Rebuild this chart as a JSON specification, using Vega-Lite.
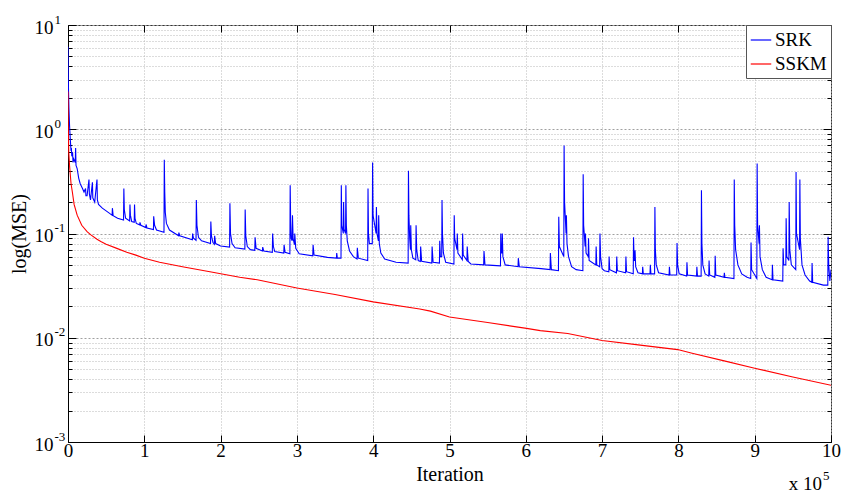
{
  "$schema": "https://vega.github.io/schema/vega-lite/v6.json",
  "width": 763,
  "height": 417,
  "autosize": "none",
  "padding": {"left": 68, "top": 25, "right": 11, "bottom": 53},
  "background": "white",
  "config": {
    "font": "Liberation Serif",
    "view": {"stroke": "#333333", "strokeWidth": 1},
    "axis": {
      "labelColor": "black", "titleColor": "black", "tickColor": "black", "domainColor": "black",
      "labelFont": "Liberation Serif", "titleFont": "Liberation Serif", "titleFontWeight": "normal",
      "labelFontSize": 19, "titleFontSize": 20, "labelFlush": false, "labelOverlap": false
    },
    "legend": {
      "orient": "top-right", "offset": 0, "padding": 4, "strokeColor": "#555555", "fillColor": "white",
      "symbolType": "stroke", "symbolSize": 420, "symbolStrokeWidth": 1.2, "labelFont": "Liberation Serif",
      "labelFontSize": 19, "labelColor": "black", "rowPadding": 3, "labelOffset": 3
    }
  },
  "data": {"values": [
    {"s":"SRK","x":0,"y":6.2},{"s":"SRK","x":0.004,"y":2.9},{"s":"SRK","x":0.012,"y":1.6},{"s":"SRK","x":0.02,"y":1.1},{"s":"SRK","x":0.03,"y":0.8},{"s":"SRK","x":0.04,"y":0.62},{"s":"SRK","x":0.044,"y":0.66},{"s":"SRK","x":0.05,"y":0.55},{"s":"SRK","x":0.06,"y":0.6},{"s":"SRK","x":0.066,"y":0.48},{"s":"SRK","x":0.075,"y":0.52},{"s":"SRK","x":0.085,"y":0.5},{"s":"SRK","x":0.095,"y":0.48},{"s":"SRK","x":0.1,"y":0.66},{"s":"SRK","x":0.105,"y":0.45},{"s":"SRK","x":0.12,"y":0.42},{"s":"SRK","x":0.14,"y":0.34},{"s":"SRK","x":0.16,"y":0.3},{"s":"SRK","x":0.19,"y":0.27},{"s":"SRK","x":0.21,"y":0.25},{"s":"SRK","x":0.23,"y":0.27},{"s":"SRK","x":0.235,"y":0.23},{"s":"SRK","x":0.25,"y":0.23},{"s":"SRK","x":0.275,"y":0.33},{"s":"SRK","x":0.28,"y":0.24},{"s":"SRK","x":0.295,"y":0.21},{"s":"SRK","x":0.32,"y":0.31},{"s":"SRK","x":0.325,"y":0.22},{"s":"SRK","x":0.35,"y":0.2},{"s":"SRK","x":0.38,"y":0.33},{"s":"SRK","x":0.385,"y":0.21},{"s":"SRK","x":0.4,"y":0.19},{"s":"SRK","x":0.45,"y":0.175},{"s":"SRK","x":0.5,"y":0.165},{"s":"SRK","x":0.55,"y":0.155},{"s":"SRK","x":0.578,"y":0.15},{"s":"SRK","x":0.582,"y":0.175},{"s":"SRK","x":0.592,"y":0.148},{"s":"SRK","x":0.65,"y":0.14},{"s":"SRK","x":0.728,"y":0.135},{"s":"SRK","x":0.732,"y":0.27},{"s":"SRK","x":0.738,"y":0.17},{"s":"SRK","x":0.755,"y":0.14},{"s":"SRK","x":0.808,"y":0.132},{"s":"SRK","x":0.812,"y":0.19},{"s":"SRK","x":0.818,"y":0.15},{"s":"SRK","x":0.835,"y":0.13},{"s":"SRK","x":0.868,"y":0.128},{"s":"SRK","x":0.872,"y":0.19},{"s":"SRK","x":0.878,"y":0.14},{"s":"SRK","x":0.895,"y":0.125},{"s":"SRK","x":0.94,"y":0.121},{"s":"SRK","x":0.943,"y":0.128},{"s":"SRK","x":0.955,"y":0.12},{"s":"SRK","x":1.02,"y":0.114},{"s":"SRK","x":1.023,"y":0.122},{"s":"SRK","x":1.035,"y":0.113},{"s":"SRK","x":1.12,"y":0.109},{"s":"SRK","x":1.123,"y":0.146},{"s":"SRK","x":1.135,"y":0.12},{"s":"SRK","x":1.16,"y":0.108},{"s":"SRK","x":1.258,"y":0.103},{"s":"SRK","x":1.262,"y":0.51},{"s":"SRK","x":1.268,"y":0.25},{"s":"SRK","x":1.275,"y":0.16},{"s":"SRK","x":1.29,"y":0.125},{"s":"SRK","x":1.33,"y":0.108},{"s":"SRK","x":1.45,"y":0.095},{"s":"SRK","x":1.453,"y":0.102},{"s":"SRK","x":1.465,"y":0.095},{"s":"SRK","x":1.63,"y":0.087},{"s":"SRK","x":1.633,"y":0.1},{"s":"SRK","x":1.645,"y":0.09},{"s":"SRK","x":1.678,"y":0.086},{"s":"SRK","x":1.682,"y":0.21},{"s":"SRK","x":1.69,"y":0.12},{"s":"SRK","x":1.71,"y":0.092},{"s":"SRK","x":1.75,"y":0.085},{"s":"SRK","x":1.868,"y":0.08},{"s":"SRK","x":1.872,"y":0.13},{"s":"SRK","x":1.88,"y":0.095},{"s":"SRK","x":1.9,"y":0.082},{"s":"SRK","x":1.918,"y":0.079},{"s":"SRK","x":1.922,"y":0.095},{"s":"SRK","x":1.935,"y":0.08},{"s":"SRK","x":2.0,"y":0.076},{"s":"SRK","x":2.118,"y":0.074},{"s":"SRK","x":2.122,"y":0.195},{"s":"SRK","x":2.13,"y":0.1},{"s":"SRK","x":2.15,"y":0.08},{"s":"SRK","x":2.19,"y":0.073},{"s":"SRK","x":2.318,"y":0.071},{"s":"SRK","x":2.322,"y":0.17},{"s":"SRK","x":2.33,"y":0.095},{"s":"SRK","x":2.35,"y":0.075},{"s":"SRK","x":2.39,"y":0.07},{"s":"SRK","x":2.448,"y":0.069},{"s":"SRK","x":2.452,"y":0.092},{"s":"SRK","x":2.465,"y":0.072},{"s":"SRK","x":2.548,"y":0.068},{"s":"SRK","x":2.552,"y":0.074},{"s":"SRK","x":2.565,"y":0.068},{"s":"SRK","x":2.678,"y":0.066},{"s":"SRK","x":2.682,"y":0.1},{"s":"SRK","x":2.692,"y":0.075},{"s":"SRK","x":2.71,"y":0.067},{"s":"SRK","x":2.828,"y":0.065},{"s":"SRK","x":2.832,"y":0.078},{"s":"SRK","x":2.845,"y":0.066},{"s":"SRK","x":2.908,"y":0.064},{"s":"SRK","x":2.912,"y":0.29},{"s":"SRK","x":2.918,"y":0.13},{"s":"SRK","x":2.925,"y":0.09},{"s":"SRK","x":2.938,"y":0.085},{"s":"SRK","x":2.942,"y":0.15},{"s":"SRK","x":2.95,"y":0.09},{"s":"SRK","x":2.968,"y":0.078},{"s":"SRK","x":2.972,"y":0.1},{"s":"SRK","x":2.985,"y":0.072},{"s":"SRK","x":3.03,"y":0.064},{"s":"SRK","x":3.208,"y":0.061},{"s":"SRK","x":3.212,"y":0.078},{"s":"SRK","x":3.225,"y":0.062},{"s":"SRK","x":3.4,"y":0.059},{"s":"SRK","x":3.518,"y":0.058},{"s":"SRK","x":3.522,"y":0.065},{"s":"SRK","x":3.53,"y":0.058},{"s":"SRK","x":3.578,"y":0.058},{"s":"SRK","x":3.582,"y":0.29},{"s":"SRK","x":3.588,"y":0.12},{"s":"SRK","x":3.608,"y":0.1},{"s":"SRK","x":3.612,"y":0.2},{"s":"SRK","x":3.618,"y":0.11},{"s":"SRK","x":3.638,"y":0.1},{"s":"SRK","x":3.642,"y":0.29},{"s":"SRK","x":3.648,"y":0.12},{"s":"SRK","x":3.66,"y":0.085},{"s":"SRK","x":3.69,"y":0.068},{"s":"SRK","x":3.74,"y":0.06},{"s":"SRK","x":3.788,"y":0.057},{"s":"SRK","x":3.792,"y":0.073},{"s":"SRK","x":3.805,"y":0.058},{"s":"SRK","x":3.928,"y":0.055},{"s":"SRK","x":3.932,"y":0.27},{"s":"SRK","x":3.938,"y":0.1},{"s":"SRK","x":3.95,"y":0.08},{"s":"SRK","x":3.988,"y":0.08},{"s":"SRK","x":3.992,"y":0.48},{"s":"SRK","x":3.998,"y":0.15},{"s":"SRK","x":4.038,"y":0.1},{"s":"SRK","x":4.042,"y":0.18},{"s":"SRK","x":4.05,"y":0.1},{"s":"SRK","x":4.068,"y":0.085},{"s":"SRK","x":4.072,"y":0.15},{"s":"SRK","x":4.08,"y":0.08},{"s":"SRK","x":4.1,"y":0.065},{"s":"SRK","x":4.15,"y":0.057},{"s":"SRK","x":4.3,"y":0.053},{"s":"SRK","x":4.458,"y":0.052},{"s":"SRK","x":4.462,"y":0.4},{"s":"SRK","x":4.468,"y":0.15},{"s":"SRK","x":4.478,"y":0.09},{"s":"SRK","x":4.488,"y":0.07},{"s":"SRK","x":4.492,"y":0.12},{"s":"SRK","x":4.5,"y":0.07},{"s":"SRK","x":4.52,"y":0.058},{"s":"SRK","x":4.558,"y":0.056},{"s":"SRK","x":4.562,"y":0.12},{"s":"SRK","x":4.57,"y":0.07},{"s":"SRK","x":4.59,"y":0.055},{"s":"SRK","x":4.618,"y":0.054},{"s":"SRK","x":4.622,"y":0.075},{"s":"SRK","x":4.635,"y":0.054},{"s":"SRK","x":4.768,"y":0.052},{"s":"SRK","x":4.772,"y":0.075},{"s":"SRK","x":4.785,"y":0.053},{"s":"SRK","x":4.868,"y":0.052},{"s":"SRK","x":4.872,"y":0.085},{"s":"SRK","x":4.88,"y":0.06},{"s":"SRK","x":4.898,"y":0.06},{"s":"SRK","x":4.902,"y":0.21},{"s":"SRK","x":4.908,"y":0.1},{"s":"SRK","x":4.92,"y":0.065},{"s":"SRK","x":4.95,"y":0.053},{"s":"SRK","x":5.058,"y":0.051},{"s":"SRK","x":5.062,"y":0.15},{"s":"SRK","x":5.068,"y":0.09},{"s":"SRK","x":5.098,"y":0.07},{"s":"SRK","x":5.102,"y":0.1},{"s":"SRK","x":5.11,"y":0.065},{"s":"SRK","x":5.168,"y":0.056},{"s":"SRK","x":5.172,"y":0.1},{"s":"SRK","x":5.18,"y":0.062},{"s":"SRK","x":5.228,"y":0.055},{"s":"SRK","x":5.232,"y":0.075},{"s":"SRK","x":5.245,"y":0.054},{"s":"SRK","x":5.28,"y":0.051},{"s":"SRK","x":5.448,"y":0.05},{"s":"SRK","x":5.452,"y":0.068},{"s":"SRK","x":5.465,"y":0.05},{"s":"SRK","x":5.668,"y":0.049},{"s":"SRK","x":5.672,"y":0.1},{"s":"SRK","x":5.678,"y":0.065},{"s":"SRK","x":5.688,"y":0.065},{"s":"SRK","x":5.692,"y":0.1},{"s":"SRK","x":5.7,"y":0.06},{"s":"SRK","x":5.73,"y":0.05},{"s":"SRK","x":5.898,"y":0.048},{"s":"SRK","x":5.902,"y":0.058},{"s":"SRK","x":5.915,"y":0.048},{"s":"SRK","x":6.2,"y":0.046},{"s":"SRK","x":6.318,"y":0.045},{"s":"SRK","x":6.322,"y":0.065},{"s":"SRK","x":6.335,"y":0.045},{"s":"SRK","x":6.428,"y":0.044},{"s":"SRK","x":6.432,"y":0.145},{"s":"SRK","x":6.44,"y":0.075},{"s":"SRK","x":6.498,"y":0.06},{"s":"SRK","x":6.502,"y":0.7},{"s":"SRK","x":6.508,"y":0.2},{"s":"SRK","x":6.528,"y":0.1},{"s":"SRK","x":6.532,"y":0.15},{"s":"SRK","x":6.54,"y":0.08},{"s":"SRK","x":6.56,"y":0.06},{"s":"SRK","x":6.6,"y":0.048},{"s":"SRK","x":6.66,"y":0.045},{"s":"SRK","x":6.748,"y":0.044},{"s":"SRK","x":6.752,"y":0.37},{"s":"SRK","x":6.758,"y":0.12},{"s":"SRK","x":6.778,"y":0.075},{"s":"SRK","x":6.782,"y":0.1},{"s":"SRK","x":6.79,"y":0.065},{"s":"SRK","x":6.818,"y":0.06},{"s":"SRK","x":6.822,"y":0.09},{"s":"SRK","x":6.83,"y":0.055},{"s":"SRK","x":6.918,"y":0.05},{"s":"SRK","x":6.922,"y":0.075},{"s":"SRK","x":6.93,"y":0.05},{"s":"SRK","x":6.968,"y":0.048},{"s":"SRK","x":6.972,"y":0.1},{"s":"SRK","x":6.98,"y":0.06},{"s":"SRK","x":7.0,"y":0.046},{"s":"SRK","x":7.03,"y":0.044},{"s":"SRK","x":7.088,"y":0.043},{"s":"SRK","x":7.092,"y":0.06},{"s":"SRK","x":7.1,"y":0.045},{"s":"SRK","x":7.188,"y":0.042},{"s":"SRK","x":7.192,"y":0.06},{"s":"SRK","x":7.2,"y":0.044},{"s":"SRK","x":7.308,"y":0.042},{"s":"SRK","x":7.312,"y":0.06},{"s":"SRK","x":7.32,"y":0.043},{"s":"SRK","x":7.408,"y":0.041},{"s":"SRK","x":7.412,"y":0.092},{"s":"SRK","x":7.42,"y":0.055},{"s":"SRK","x":7.428,"y":0.055},{"s":"SRK","x":7.432,"y":0.069},{"s":"SRK","x":7.44,"y":0.048},{"s":"SRK","x":7.47,"y":0.042},{"s":"SRK","x":7.528,"y":0.041},{"s":"SRK","x":7.532,"y":0.048},{"s":"SRK","x":7.54,"y":0.041},{"s":"SRK","x":7.628,"y":0.041},{"s":"SRK","x":7.632,"y":0.05},{"s":"SRK","x":7.64,"y":0.041},{"s":"SRK","x":7.688,"y":0.041},{"s":"SRK","x":7.692,"y":0.18},{"s":"SRK","x":7.698,"y":0.07},{"s":"SRK","x":7.71,"y":0.05},{"s":"SRK","x":7.74,"y":0.042},{"s":"SRK","x":7.878,"y":0.04},{"s":"SRK","x":7.882,"y":0.048},{"s":"SRK","x":7.89,"y":0.04},{"s":"SRK","x":7.978,"y":0.04},{"s":"SRK","x":7.982,"y":0.081},{"s":"SRK","x":7.99,"y":0.05},{"s":"SRK","x":8.01,"y":0.041},{"s":"SRK","x":8.108,"y":0.039},{"s":"SRK","x":8.112,"y":0.053},{"s":"SRK","x":8.12,"y":0.04},{"s":"SRK","x":8.238,"y":0.039},{"s":"SRK","x":8.242,"y":0.048},{"s":"SRK","x":8.25,"y":0.039},{"s":"SRK","x":8.298,"y":0.039},{"s":"SRK","x":8.302,"y":0.26},{"s":"SRK","x":8.308,"y":0.08},{"s":"SRK","x":8.32,"y":0.05},{"s":"SRK","x":8.35,"y":0.041},{"s":"SRK","x":8.398,"y":0.039},{"s":"SRK","x":8.402,"y":0.055},{"s":"SRK","x":8.41,"y":0.04},{"s":"SRK","x":8.478,"y":0.038},{"s":"SRK","x":8.482,"y":0.061},{"s":"SRK","x":8.49,"y":0.04},{"s":"SRK","x":8.598,"y":0.038},{"s":"SRK","x":8.602,"y":0.042},{"s":"SRK","x":8.61,"y":0.038},{"s":"SRK","x":8.728,"y":0.037},{"s":"SRK","x":8.732,"y":0.33},{"s":"SRK","x":8.738,"y":0.12},{"s":"SRK","x":8.75,"y":0.07},{"s":"SRK","x":8.78,"y":0.05},{"s":"SRK","x":8.83,"y":0.041},{"s":"SRK","x":8.9,"y":0.038},{"s":"SRK","x":8.948,"y":0.037},{"s":"SRK","x":8.952,"y":0.082},{"s":"SRK","x":8.96,"y":0.045},{"s":"SRK","x":9.028,"y":0.037},{"s":"SRK","x":9.032,"y":0.47},{"s":"SRK","x":9.038,"y":0.12},{"s":"SRK","x":9.058,"y":0.08},{"s":"SRK","x":9.062,"y":0.12},{"s":"SRK","x":9.07,"y":0.06},{"s":"SRK","x":9.1,"y":0.045},{"s":"SRK","x":9.15,"y":0.038},{"s":"SRK","x":9.228,"y":0.036},{"s":"SRK","x":9.232,"y":0.05},{"s":"SRK","x":9.24,"y":0.036},{"s":"SRK","x":9.368,"y":0.035},{"s":"SRK","x":9.372,"y":0.072},{"s":"SRK","x":9.38,"y":0.05},{"s":"SRK","x":9.408,"y":0.05},{"s":"SRK","x":9.412,"y":0.14},{"s":"SRK","x":9.42,"y":0.06},{"s":"SRK","x":9.448,"y":0.055},{"s":"SRK","x":9.452,"y":0.2},{"s":"SRK","x":9.46,"y":0.07},{"s":"SRK","x":9.48,"y":0.05},{"s":"SRK","x":9.538,"y":0.045},{"s":"SRK","x":9.542,"y":0.39},{"s":"SRK","x":9.548,"y":0.1},{"s":"SRK","x":9.588,"y":0.07},{"s":"SRK","x":9.592,"y":0.33},{"s":"SRK","x":9.598,"y":0.09},{"s":"SRK","x":9.62,"y":0.05},{"s":"SRK","x":9.66,"y":0.04},{"s":"SRK","x":9.72,"y":0.035},{"s":"SRK","x":9.748,"y":0.034},{"s":"SRK","x":9.752,"y":0.052},{"s":"SRK","x":9.76,"y":0.034},{"s":"SRK","x":9.9,"y":0.032},{"s":"SRK","x":9.958,"y":0.032},{"s":"SRK","x":9.962,"y":0.093},{"s":"SRK","x":9.97,"y":0.05},{"s":"SRK","x":9.985,"y":0.035},{"s":"SRK","x":10,"y":0.045},
    {"s":"SSKM","x":0,"y":2.3},{"s":"SSKM","x":0.003,"y":1.1},{"s":"SSKM","x":0.01,"y":0.6},{"s":"SSKM","x":0.02,"y":0.45},{"s":"SSKM","x":0.04,"y":0.3},{"s":"SSKM","x":0.057,"y":0.25},{"s":"SSKM","x":0.08,"y":0.19},{"s":"SSKM","x":0.12,"y":0.15},{"s":"SSKM","x":0.18,"y":0.12},{"s":"SSKM","x":0.25,"y":0.104},{"s":"SSKM","x":0.3,"y":0.097},{"s":"SSKM","x":0.38,"y":0.088},{"s":"SSKM","x":0.43,"y":0.084},{"s":"SSKM","x":0.5,"y":0.079},{"s":"SSKM","x":0.64,"y":0.072},{"s":"SSKM","x":0.77,"y":0.066},{"s":"SSKM","x":0.89,"y":0.062},{"s":"SSKM","x":1.0,"y":0.058},{"s":"SSKM","x":1.2,"y":0.053},{"s":"SSKM","x":1.5,"y":0.048},{"s":"SSKM","x":1.86,"y":0.043},{"s":"SSKM","x":2.25,"y":0.038},{"s":"SSKM","x":2.48,"y":0.036},{"s":"SSKM","x":3.0,"y":0.03},{"s":"SSKM","x":3.5,"y":0.026},{"s":"SSKM","x":4.0,"y":0.0221},{"s":"SSKM","x":4.61,"y":0.0189},{"s":"SSKM","x":4.75,"y":0.018},{"s":"SSKM","x":5.0,"y":0.0158},{"s":"SSKM","x":5.5,"y":0.014},{"s":"SSKM","x":6.01,"y":0.0123},{"s":"SSKM","x":6.19,"y":0.0117},{"s":"SSKM","x":6.55,"y":0.011},{"s":"SSKM","x":7.0,"y":0.0094},{"s":"SSKM","x":7.5,"y":0.0085},{"s":"SSKM","x":7.99,"y":0.0077},{"s":"SSKM","x":8.18,"y":0.0071},{"s":"SSKM","x":8.6,"y":0.006},{"s":"SSKM","x":9.0,"y":0.0051},{"s":"SSKM","x":9.5,"y":0.0042},{"s":"SSKM","x":10,"y":0.0035}
  ]},
  "resolve": {"axis": {"x": "independent", "y": "independent"}},
  "layer": [
    {
      "mark": {"type": "line", "strokeWidth": 1.1, "clip": true},
      "encoding": {
        "x": {"field": "x", "type": "quantitative",
          "scale": {"domain": [0, 10], "nice": false, "zero": false},
          "axis": {"orient": "bottom", "values": [0,1,2,3,4,5,6,7,8,9,10], "grid": true, "gridColor": "#b8b8b8", "gridDash": [1, 2],
                   "tickSize": -7, "labelPadding": 6, "title": "Iteration", "titlePadding": 4}},
        "y": {"field": "y", "type": "quantitative",
          "scale": {"type": "log", "domain": [0.001, 10], "nice": false},
          "axis": {"orient": "left", "values": [0.001, 0.01, 0.1, 1, 10], "grid": true, "gridColor": "#a0a0a0", "gridDash": [2, 2],
                   "tickSize": -8, "labelExpr": "'10'", "labelPadding": 23, "labelAlign": "right", "labelBaseline": "middle", "labelOffset": 2,
                   "title": "log(MSE)", "titlePadding": 5}},
        "color": {"field": "s", "type": "nominal",
          "scale": {"domain": ["SRK", "SSKM"], "range": ["#0000ff", "#ff0000"]},
          "legend": {"title": null}}
      }
    },
    {
      "mark": {"type": "point", "opacity": 0},
      "encoding": {
        "x": {"field": "x", "type": "quantitative",
          "axis": {"orient": "top", "values": [0,1,2,3,4,5,6,7,8,9,10], "grid": false, "tickSize": -7, "labels": false, "domain": false, "title": null}},
        "y": {"field": "y", "type": "quantitative",
          "axis": {"orient": "left", "values": [0.001, 0.01, 0.1, 1, 10], "grid": false, "ticks": false, "domain": false,
                   "labelExpr": "datum.value > 5 ? '1' : datum.value > 0.5 ? '0' : datum.value > 0.05 ? '-1' : datum.value > 0.005 ? '-2' : '-3'",
                   "labelFontSize": 13, "labelAlign": "left", "labelPadding": 14, "labelBaseline": "middle", "labelOffset": -6, "title": null}}
      }
    },
    {
      "mark": {"type": "point", "opacity": 0},
      "encoding": {
        "x": {"field": "x", "type": "quantitative", "axis": null},
        "y": {"field": "y", "type": "quantitative",
          "axis": {"orient": "left", "values": [0.002,0.003,0.004,0.005,0.006,0.007,0.008,0.009,0.02,0.03,0.04,0.05,0.06,0.07,0.08,0.09,0.2,0.3,0.4,0.5,0.6,0.7,0.8,0.9,2,3,4,5,6,7,8,9],
                   "grid": true, "gridColor": "#b8b8b8", "gridDash": [1, 2], "tickSize": -4, "labels": false, "domain": false, "title": null}}
      }
    },
    {
      "mark": {"type": "point", "opacity": 0},
      "encoding": {
        "x": {"field": "x", "type": "quantitative", "axis": null},
        "y": {"field": "y", "type": "quantitative",
          "axis": {"orient": "right", "values": [0.001, 0.01, 0.1, 1, 10], "grid": false, "tickSize": -8, "labels": false, "domain": false, "title": null}}
      }
    },
    {
      "mark": {"type": "point", "opacity": 0},
      "encoding": {
        "x": {"field": "x", "type": "quantitative", "axis": null},
        "y": {"field": "y", "type": "quantitative",
          "axis": {"orient": "right", "values": [0.002,0.003,0.004,0.005,0.006,0.007,0.008,0.009,0.02,0.03,0.04,0.05,0.06,0.07,0.08,0.09,0.2,0.3,0.4,0.5,0.6,0.7,0.8,0.9,2,3,4,5,6,7,8,9],
                   "grid": false, "tickSize": -4, "labels": false, "domain": false, "title": null}}
      }
    },
    {
      "data": {"values": [{"t": "x 10"}]},
      "mark": {"type": "text", "align": "right", "baseline": "alphabetic", "dx": -9, "dy": 48, "fontSize": 19, "font": "Liberation Serif", "color": "black"},
      "encoding": {
        "x": {"datum": 10, "type": "quantitative", "axis": null},
        "y": {"datum": 0.001, "type": "quantitative", "axis": null},
        "text": {"field": "t"}
      }
    },
    {
      "data": {"values": [{"t": "5"}]},
      "mark": {"type": "text", "align": "left", "baseline": "alphabetic", "dx": -8, "dy": 38, "fontSize": 13, "font": "Liberation Serif", "color": "black"},
      "encoding": {
        "x": {"datum": 10, "type": "quantitative", "axis": null},
        "y": {"datum": 0.001, "type": "quantitative", "axis": null},
        "text": {"field": "t"}
      }
    }
  ]
}
